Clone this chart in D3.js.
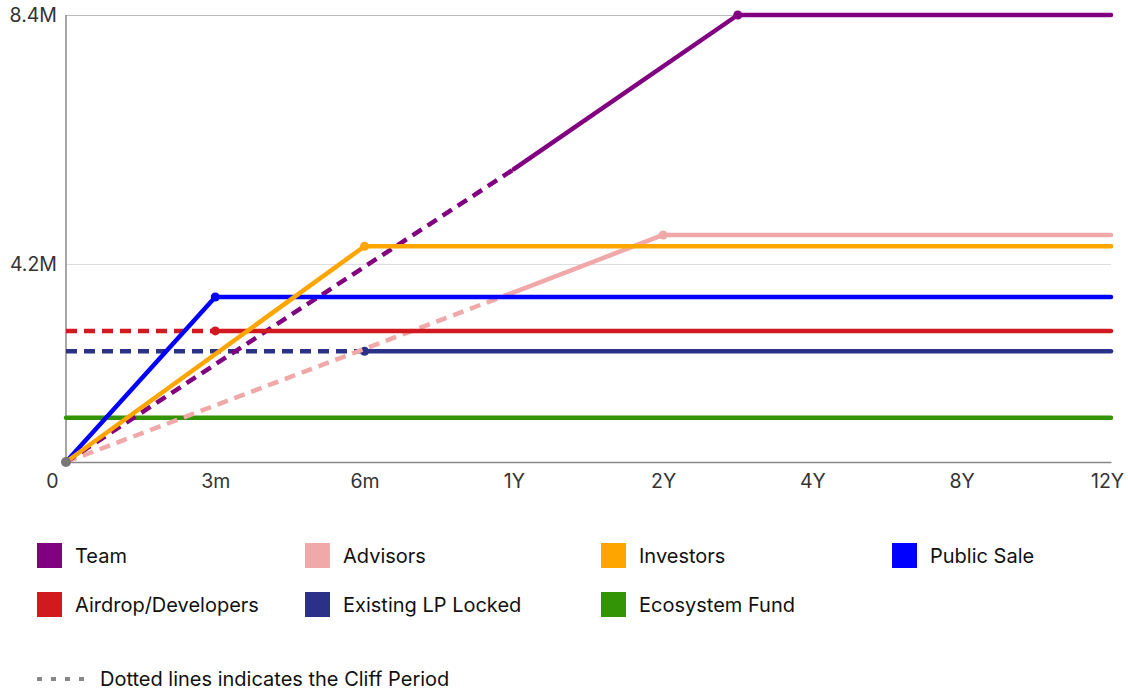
<!DOCTYPE html>
<html>
<head>
<meta charset="utf-8">
<script src="https://cdn.jsdelivr.net/npm/d3@7"></script>
<style>
  html, body { margin: 0; padding: 0; background: #fff; }
  svg { display: block; font-family: Inter, "Noto Sans", sans-serif; }
</style>
</head>
<body>
<svg id="chart" width="1128" height="692"></svg>
<script>
// x positions are period indexes into the tick labels below
const periods = ['0', '3m', '6m', '1Y', '2Y', '4Y', '8Y', '12Y'];
const yTicks = [4.2, 8.4];

const seriesNames = ['Team', 'Advisors', 'Investors', 'Public Sale', 'Airdrop/Developers', 'Existing LP Locked', 'Ecosystem Fund'];
const seriesColors = ['#800080', '#f0a8a8', '#ffa500', '#0000ff', '#d01a1f', '#2b3187', '#339406'];

// [period index, value in millions]
const team = [[0, 0], [3, 5.8], [4.5, 8.4], [7, 8.4]];
const advisors = [[0, 0], [3, 3.6], [4, 4.69], [7, 4.69]];
const investors = [[0, 0], [2, 4.5], [7, 4.5]];
const publicSale = [[0, 0], [1, 3.5], [7, 3.5]];
const airdrop = [[0, 2.78], [1, 2.78], [7, 2.78]];
const existingLp = [[0, 2.35], [2, 2.35], [7, 2.35]];
const ecosystem = [[0, 0.94], [7, 0.94]];

// end of the cliff period (dashed part), and where the marker dot sits
const cliffEnd = [3, 3, 0, 0, 1, 2, 0];
const dotAt = [4.5, 4, 2, 1, 1, 2, null];

const seriesValues = [team, advisors, investors, publicSale, airdrop, existingLp, ecosystem];
const drawOrder = [6, 5, 1, 0, 4, 3, 2];

const svg = d3.select('#chart');

const x = d3.scaleLinear().domain([0, periods.length - 1]).range([66, 1111]);
const y = d3.scaleLinear().domain([0, 4.2, 8.4]).range([462, 264, 15]);

function translate(tx, ty) {
    return 'translate(' + tx + ',' + ty + ')';
}

// grid
svg.append('g')
    .attr('transform', translate(66, 0))
    .call(d3.axisLeft(y).tickValues(yTicks).tickSize(-(1111 - 66)).tickFormat(d => d + 'M'))
    .call(g => g.select('.domain').remove())
    .call(g => g.selectAll('.tick line')
        .attr('stroke', d => d === 8.4 ? '#bbb' : '#ddd')
        .attr('stroke-width', 1))
    .call(g => g.selectAll('.tick text')
        .attr('x', -9)
        .attr('fill', '#333')
        .style('font-size', '19.5px')
        .style('font-family', 'Inter, sans-serif'));

// left axis line
svg.append('line')
    .attr('x1', 66).attr('x2', 66)
    .attr('y1', y(8.4)).attr('y2', y(0))
    .attr('stroke', '#888')
    .attr('stroke-width', 1.5);

// bottom axis
svg.append('g')
    .attr('transform', translate(0, y(0)))
    .call(d3.axisBottom(x).tickValues(d3.range(periods.length)).tickSize(0).tickFormat(i => periods[i]))
    .call(g => g.select('.domain').attr('stroke', '#888').attr('stroke-width', 1.5))
    .call(g => g.selectAll('.tick text')
        .attr('y', 12)
        .attr('dx', i => i === 0 ? -14 : (i === periods.length - 1 ? -4 : 0))
        .attr('fill', '#333')
        .style('font-size', '19.5px')
        .style('font-family', 'Inter, sans-serif'));

const line = d3.line()
    .x(d => x(d[0]))
    .y(d => y(d[1]));

const lines = svg.append('g').attr('fill', 'none');

drawOrder.forEach(function (k) {
    const pts = seriesValues[k],
        cliff = cliffEnd[k],
        color = seriesColors[k];

    const dashed = pts.filter(p => p[0] <= cliff),
        solid = pts.filter(p => p[0] >= cliff);

    if (cliff > 0) {
        lines.append('path')
            .attr('d', line(dashed))
            .attr('stroke', color)
            .attr('stroke-width', 4.5)
            .attr('stroke-dasharray', '11,7');
    }

    lines.append('path')
        .attr('d', line(solid))
        .attr('stroke', color)
        .attr('stroke-width', 4.5)
        .attr('stroke-linecap', 'round')
        .attr('stroke-linejoin', 'round');

    if (dotAt[k] !== null) {
        const p = pts.find(p => p[0] === dotAt[k]);
        lines.append('circle')
            .attr('cx', x(p[0]))
            .attr('cy', y(p[1]))
            .attr('r', 4.5)
            .attr('fill', color);
    }
});

// origin marker
svg.append('circle')
    .attr('cx', x(0))
    .attr('cy', y(0))
    .attr('r', 5)
    .attr('fill', '#777');

// legend
const legendCols = [37, 305, 601, 892],
    legendRows = [543, 592];

const legend = svg.append('g');

seriesNames.forEach(function (name, i) {
    const lx = legendCols[i % 4],
        ly = legendRows[Math.floor(i / 4)];

    const item = legend.append('g').attr('transform', translate(lx, ly));

    item.append('rect')
        .attr('width', 25)
        .attr('height', 25)
        .attr('fill', seriesColors[i]);

    item.append('text')
        .text(name)
        .attr('x', 38)
        .attr('y', 20)
        .attr('fill', '#111')
        .style('font-size', '20px');
});

// cliff note
const note = svg.append('g').attr('transform', translate(37, 679));

note.append('line')
    .attr('x1', 0).attr('x2', 50)
    .attr('stroke', '#888')
    .attr('stroke-width', 4)
    .attr('stroke-dasharray', '5,9');

note.append('text')
    .text('Dotted lines indicates the Cliff Period')
    .attr('x', 63)
    .attr('y', 7)
    .attr('fill', '#111')
    .style('font-size', '20px');
</script>
</body>
</html>
